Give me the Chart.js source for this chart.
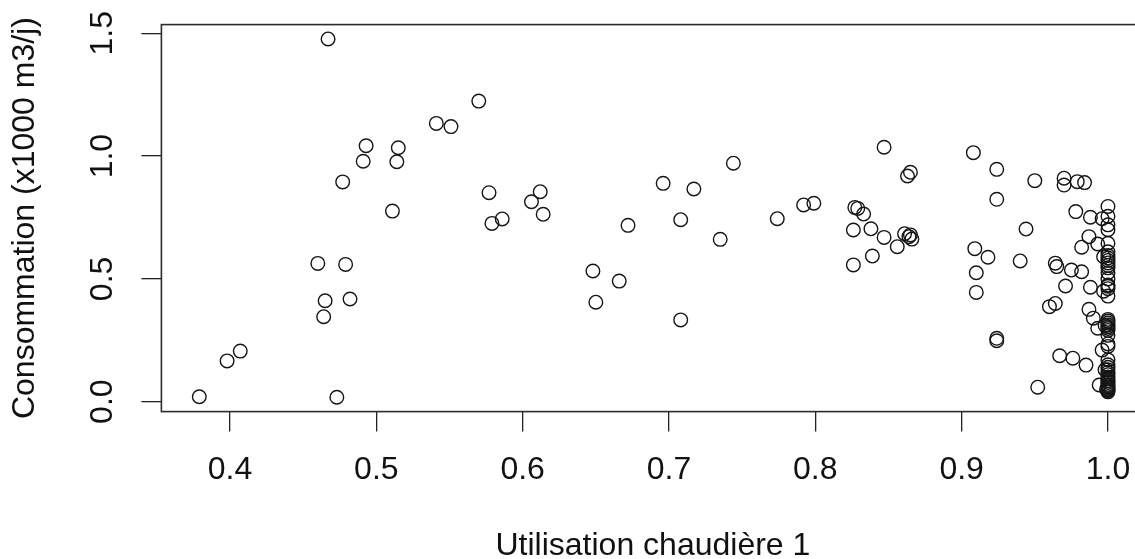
<!DOCTYPE html>
<html>
<head>
<meta charset="utf-8">
<script src="https://cdn.jsdelivr.net/npm/chart.js@4/dist/chart.umd.min.js"></script>
<style>
  html, body { margin: 0; padding: 0; background: #fff; overflow: hidden; }
  #wrap { width: 1135px; height: 559px; overflow: hidden; }
  canvas { display: block; }
</style>
</head>
<body>
<div id="wrap"><canvas id="c" width="1160" height="559"></canvas></div>
<script>
// ---- data ----
const xTitle = 'Utilisation chaudière 1';
const yTitle = 'Consommation (x1000 m3/j)';
const xTicks = [0.4, 0.5, 0.6, 0.7, 0.8, 0.9, 1.0];
const yTicks = [0.0, 0.5, 1.0, 1.5];

const utilisation = [
  0.379, 0.398, 0.407, 0.460, 0.465, 0.464, 0.467, 0.473, 0.477, 0.479,
  0.482, 0.491, 0.493, 0.511, 0.514, 0.515, 0.541, 0.551, 0.570, 0.577,
  0.579, 0.586, 0.606, 0.612, 0.614,
  0.648, 0.650, 0.666, 0.672, 0.696, 0.708, 0.708, 0.717, 0.735, 0.744,
  0.774, 0.792, 0.799,
  0.826, 0.826, 0.827, 0.829, 0.833, 0.838, 0.839, 0.847, 0.847, 0.856,
  0.861, 0.863, 0.864, 0.865, 0.866, 0.865,
  0.908, 0.909, 0.910, 0.910, 0.918, 0.924, 0.924, 0.924, 0.924, 0.940,
  0.944, 0.950, 0.952, 0.960, 0.964, 0.964, 0.965, 0.967, 0.970, 0.970,
  0.971, 0.975, 0.976, 0.978, 0.979, 0.982, 0.982, 0.984, 0.985, 0.987,
  0.987, 0.988, 0.988, 0.990, 0.993, 0.993, 0.994, 0.996, 0.996, 0.997,
  0.997, 0.998, 0.998, 0.999,
  1.000, 1.000, 1.000, 1.000, 1.000, 1.000, 1.000, 1.000, 1.000, 1.000,
  1.000, 1.000, 1.000, 1.000, 1.000, 1.000, 1.000, 1.000, 1.000, 1.000,
  1.000, 1.000, 1.000, 1.000, 1.000, 1.000, 1.000, 1.000, 1.000, 1.000,
  1.000, 1.000, 1.000, 1.000, 1.000, 1.000, 1.000, 1.000, 1.000, 1.000,
  1.000, 1.000, 1.000, 1.000, 1.000
];
const consommation = [
  0.020, 0.166, 0.206, 0.563, 0.411, 0.346, 1.477, 0.018, 0.895, 0.559,
  0.418, 0.979, 1.042, 0.776, 0.977, 1.034, 1.133, 1.120, 1.224, 0.851,
  0.726, 0.744, 0.814, 0.855, 0.763,
  0.532, 0.405, 0.491, 0.718, 0.889, 0.741, 0.333, 0.866, 0.661, 0.971,
  0.745, 0.801, 0.808,
  0.557, 0.699, 0.791, 0.787, 0.764, 0.704, 0.593, 1.036, 0.669, 0.631,
  0.684, 0.919, 0.672, 0.679, 0.662, 0.934,
  1.014, 0.623, 0.525, 0.445, 0.588, 0.946, 0.824, 0.258, 0.248, 0.573,
  0.703, 0.900, 0.059, 0.387, 0.400, 0.564, 0.550, 0.187, 0.910, 0.882,
  0.471, 0.536, 0.177, 0.774, 0.896, 0.529, 0.629, 0.892, 0.149, 0.376,
  0.672, 0.751, 0.466, 0.340, 0.642, 0.299, 0.068, 0.210, 0.745, 0.590,
  0.450, 0.310, 0.130, 0.050,
  0.795, 0.755, 0.720, 0.700, 0.645, 0.610, 0.585, 0.565, 0.545, 0.525,
  0.500, 0.475, 0.460, 0.430, 0.335, 0.320, 0.305, 0.290, 0.270, 0.235,
  0.225, 0.170, 0.140, 0.120, 0.100, 0.085, 0.070, 0.060, 0.050, 0.045,
  0.040, 0.055, 0.065, 0.078, 0.092, 0.110, 0.130, 0.150, 0.312, 0.328,
  0.298, 0.595, 0.575, 0.555, 0.470
];

// ---- chart ----
const FONT = '"Liberation Sans", Arial, Helvetica, sans-serif';
const points = utilisation.map((x, i) => ({ x: x, y: consommation[i] }));

const boxAndYLabels = {
  id: 'boxAndYLabels',
  afterDraw(chart) {
    const ctx = chart.ctx;
    const a = chart.chartArea;
    ctx.save();
    ctx.strokeStyle = '#2b2b2b';
    ctx.lineWidth = 1.6;
    ctx.strokeRect(a.left, a.top, a.right - a.left, a.bottom - a.top);
    const ys = chart.scales.y;
    ctx.font = '32px ' + FONT;
    ctx.fillStyle = '#111';
    ctx.textAlign = 'center';
    ctx.textBaseline = 'alphabetic';
    yTicks.forEach(v => {
      const py = ys.getPixelForValue(v);
      ctx.save();
      ctx.translate(112, py);
      ctx.rotate(-Math.PI / 2);
      ctx.fillText(v.toFixed(1), 0, 0);
      ctx.restore();
    });
    ctx.restore();
  }
};

new Chart(document.getElementById('c'), {
  type: 'scatter',
  data: {
    datasets: [{
      data: points,
      pointStyle: 'circle',
      pointRadius: 6.8,
      pointHoverRadius: 6.8,
      pointBorderWidth: 1.4,
      borderColor: '#151515',
      backgroundColor: 'rgba(0,0,0,0)'
    }]
  },
  options: {
    responsive: false,
    animation: false,
    events: [],
    layout: { padding: { top: 24.6, right: 15.6, left: 0, bottom: 0 } },
    plugins: { legend: { display: false }, tooltip: { enabled: false } },
    scales: {
      x: {
        type: 'linear',
        min: 0.3531,
        max: 1.0249,
        afterBuildTicks: s => { s.ticks = xTicks.map(v => ({ value: v })); },
        afterFit: s => { s.height = 147.4; },
        border: { display: false },
        grid: { drawOnChartArea: false, drawTicks: true, tickLength: 20, color: '#222', lineWidth: 1.3 },
        ticks: {
          font: { family: FONT, size: 32, lineHeight: 1.2 },
          color: '#111',
          padding: 19,
          maxRotation: 0,
          autoSkip: false,
          callback: v => Number(v).toFixed(1)
        },
        title: {
          display: true,
          text: xTitle,
          color: '#111',
          font: { family: FONT, size: 32, lineHeight: 0.875 },
          padding: { top: 0, bottom: -1 }
        }
      },
      y: {
        type: 'linear',
        min: -0.0404,
        max: 1.5354,
        afterBuildTicks: s => { s.ticks = yTicks.map(v => ({ value: v })); },
        afterFit: s => { s.width = 161.4; },
        border: { display: false },
        grid: { drawOnChartArea: false, drawTicks: true, tickLength: 20, color: '#222', lineWidth: 1.3 },
        ticks: { display: false },
        title: {
          display: true,
          text: yTitle,
          color: '#111',
          font: { family: FONT, size: 32, lineHeight: 0.875 },
          padding: { top: 11, bottom: 0 }
        }
      }
    }
  },
  plugins: [boxAndYLabels]
});
</script>
</body>
</html>
